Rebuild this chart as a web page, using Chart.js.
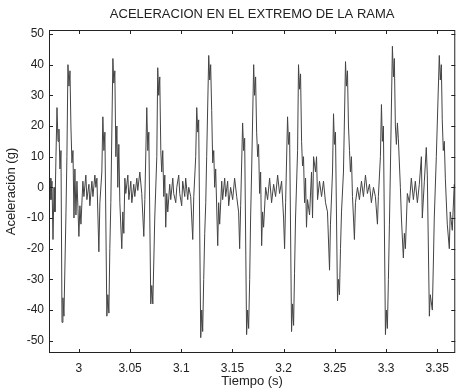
<!DOCTYPE html>
<html><head><meta charset="utf-8">
<script src="https://cdn.jsdelivr.net/npm/chart.js@4.4.1/dist/chart.umd.min.js"></script>
<style>html,body{margin:0;padding:0;background:#fff;}</style>
</head><body>
<canvas id="c" width="457" height="390"></canvas>
<script>
const times = [
2.9708,2.9718,2.9727,2.9737,2.9747,2.9757,2.9766,2.9776,2.9786,2.9796,2.9805,2.9815,2.9825,2.9835,2.9844,2.9854,2.9864,2.9874,2.9883,2.9893,
2.9903,2.9913,2.9922,2.9932,2.9942,2.9952,2.9961,2.9971,2.9981,2.9991,3.0000,3.0010,3.0020,3.0039,3.0049,3.0068,3.0078,3.0098,3.0107,3.0127,
3.0137,3.0156,3.0166,3.0176,3.0195,3.0205,3.0224,3.0234,3.0244,3.0254,3.0273,3.0283,3.0293,3.0302,3.0312,3.0332,3.0341,3.0351,3.0361,3.0371,
3.0380,3.0390,3.0400,3.0419,3.0429,3.0439,3.0449,3.0458,3.0478,3.0488,3.0507,3.0517,3.0536,3.0546,3.0566,3.0575,3.0595,3.0614,3.0634,3.0644,
3.0663,3.0673,3.0683,3.0702,3.0712,3.0722,3.0731,3.0741,3.0761,3.0770,3.0780,3.0790,3.0800,3.0809,3.0819,3.0829,3.0839,3.0848,3.0858,3.0868,
3.0887,3.0897,3.0917,3.0926,3.0946,3.0956,3.0975,3.0985,3.1004,3.1014,3.1034,3.1043,3.1063,3.1073,3.1092,3.1112,3.1122,3.1141,3.1151,3.1161,
3.1170,3.1190,3.1200,3.1209,3.1219,3.1229,3.1239,3.1248,3.1268,3.1278,3.1287,3.1297,3.1307,3.1317,3.1326,3.1336,3.1356,3.1365,3.1375,3.1395,
3.1404,3.1424,3.1434,3.1453,3.1463,3.1482,3.1502,3.1521,3.1541,3.1560,3.1570,3.1580,3.1599,3.1609,3.1619,3.1638,3.1648,3.1658,3.1668,3.1677,
3.1687,3.1707,3.1716,3.1726,3.1736,3.1746,3.1755,3.1765,3.1775,3.1785,3.1794,3.1804,3.1824,3.1843,3.1863,3.1882,3.1902,3.1921,3.1941,3.1960,
3.1980,3.1999,3.2009,3.2019,3.2038,3.2048,3.2058,3.2077,3.2087,3.2097,3.2106,3.2116,3.2136,3.2145,3.2155,3.2165,3.2175,3.2184,3.2194,3.2204,
3.2214,3.2223,3.2233,3.2253,3.2272,3.2282,3.2292,3.2311,3.2321,3.2331,3.2350,3.2370,3.2389,3.2409,3.2428,3.2448,3.2457,3.2477,3.2487,3.2496,
3.2506,3.2526,3.2535,3.2545,3.2555,3.2565,3.2584,3.2604,3.2613,3.2623,3.2633,3.2643,3.2652,3.2662,3.2672,3.2682,3.2691,3.2701,3.2721,3.2740,
3.2760,3.2779,3.2799,3.2818,3.2838,3.2857,3.2877,3.2896,3.2916,3.2925,3.2945,3.2955,3.2964,3.2974,3.2994,3.3003,3.3013,3.3023,3.3033,3.3042,
3.3062,3.3072,3.3081,3.3091,3.3101,3.3111,3.3120,3.3140,3.3150,3.3169,3.3179,3.3189,3.3208,3.3228,3.3247,3.3267,3.3286,3.3306,3.3325,3.3345,
3.3354,3.3374,3.3393,3.3403,3.3423,3.3432,3.3452,3.3462,3.3471,3.3491,3.3520,3.3530,3.3540,3.3549,3.3559,3.3569,3.3579,3.3598,3.3618,3.3627,
3.3647,3.3666
];
const accel = [
-2,3,-4,2,-17,0,-8,10,26,15,19,6,12,-44,-36,-42,-25,-8,10,40,
33,38,20,8,12,-10,6,-9,2,-7,-16,-6,-12,2,-3,4,-4,1,-6,2,
-3,4,0,3,-21,-5,5,23,12,18,-42,-35,-41,-20,-5,42,34,38,10,20,
0,14,-5,-20,-8,-15,3,-2,4,-4,2,-5,1,-3,3,-1,5,-2,-16,-4,
26,12,18,-38,-32,-38,-25,-10,10,39,30,36,12,5,12,-3,4,-13,-2,-8,
1,-4,3,-2,-5,0,4,-2,-6,2,-3,3,-4,0,-3,-17,-3,10,26,18,
22,-49,-40,-47,-30,-15,-5,10,43,35,40,25,8,12,0,6,-19,-5,-12,2,
-4,3,-3,2,-6,0,-4,3,-3,-8,-20,-6,21,12,16,-48,-40,-46,-30,-10,
5,40,30,36,18,10,14,-2,5,-19,-8,-13,0,-4,3,-5,1,-3,4,-2,
2,-10,-20,-5,23,14,18,-47,-38,-45,-28,-10,12,40,32,37,15,7,10,-5,
3,-13,-4,-9,5,-10,10,5,10,-4,2,-3,2,-5,-8,-27,-12,5,24,14,
18,-37,-30,-35,-20,-8,5,41,33,38,20,12,5,10,-3,-10,-17,-5,0,-4,
2,-3,4,-2,1,-5,0,-3,-12,-3,10,27,15,20,-48,-40,-46,-30,-12,5,
46,36,42,20,14,21,16,0,-10,-23,-15,-20,-2,-5,3,-4,2,-5,1,10,
-10,2,13,4,-42,-35,-40,-25,-10,10,43,35,40,22,12,15,3,-12,-20,-8,
-14,1
];
const xTicks = [3, 3.05, 3.1, 3.15, 3.2, 3.25, 3.3, 3.35];
const xTickLabels = ['3', '3.05', '3.1', '3.15', '3.2', '3.25', '3.3', '3.35'];
const yTicks = [-50, -40, -30, -20, -10, 0, 10, 20, 30, 40, 50];
const xRange = [2.9708, 3.3676];
const yRange = [-54, 51.3];
const titleText = 'ACELERACION EN EL EXTREMO DE LA RAMA';

const points = times.map((t, i) => ({x: t, y: accel[i]}));
const FONT = 'Liberation Sans, Arial, sans-serif';

const boxPlugin = {
  id: 'box',
  afterDraw(chart) {
    const {ctx, chartArea: a, scales: {x, y}} = chart;
    ctx.save();
    ctx.strokeStyle = '#222';
    ctx.lineWidth = 1;
    ctx.strokeRect(a.left + 0.5, a.top + 0.5, a.right - a.left - 1, a.bottom - a.top - 1);
    ctx.beginPath();
    xTicks.forEach(v => {
      const px = Math.round(x.getPixelForValue(v)) + 0.5;
      ctx.moveTo(px, a.bottom); ctx.lineTo(px, a.bottom - 4);
      ctx.moveTo(px, a.top); ctx.lineTo(px, a.top + 4);
    });
    yTicks.forEach(v => {
      const py = Math.round(y.getPixelForValue(v)) + 0.5;
      ctx.moveTo(a.left, py); ctx.lineTo(a.left + 4, py);
      ctx.moveTo(a.right, py); ctx.lineTo(a.right - 4, py);
    });
    ctx.stroke();
    ctx.restore();
  }
};

new Chart(document.getElementById('c'), {
  type: 'line',
  data: { datasets: [{ data: points, xAxisID: 'x', yAxisID: 'y', borderColor: '#444', borderWidth: 1, pointRadius: 0, tension: 0, fill: false }] },
  options: {
    responsive: false,
    animation: false,
    layout: { padding: { left: 0, right: 1, top: 0, bottom: 0 } },
    plugins: {
      legend: { display: false },
      tooltip: { enabled: false },
      title: { display: false }
    },
    scales: {
      x: {
        type: 'linear', position: 'bottom', min: xRange[0], max: xRange[1],
        grid: { display: false, drawTicks: false }, border: { display: false },
        afterBuildTicks(s) { s.ticks = xTicks.map(v => ({value: v})); },
        afterFit(s) { s.height = 37; },
        ticks: { color: '#222', padding: 8, autoSkip: false, maxRotation: 0,
                 font: { family: FONT, size: 12 },
                 callback: (v) => { const i = xTicks.indexOf(v); return i >= 0 ? xTickLabels[i] : ''; } },
        title: { display: true, text: 'Tiempo (s)', color: '#222', font: { family: FONT, size: 13 }, padding: { top: 1, bottom: 1 } }
      },
      x2: {
        type: 'linear', position: 'top', min: xRange[0], max: xRange[1],
        grid: { display: false, drawTicks: false }, border: { display: false },
        ticks: { display: false },
        afterFit(s) { s.height = 30; },
        title: { display: true, text: titleText, color: '#222', font: { family: FONT, size: 13 }, padding: { top: 7, bottom: 7 } }
      },
      y: {
        type: 'linear', min: yRange[0], max: yRange[1],
        grid: { display: false, drawTicks: false }, border: { display: false },
        afterBuildTicks(s) { s.ticks = yTicks.map(v => ({value: v})); },
        afterFit(s) { s.width = 49; },
        ticks: { color: '#222', padding: 5, autoSkip: false, font: { family: FONT, size: 12 } },
        title: { display: true, text: 'Aceleración (g)', color: '#222', font: { family: FONT, size: 13 }, padding: { top: 4, bottom: 4 } }
      }
    }
  },
  plugins: [boxPlugin]
});
</script>
</body></html>
